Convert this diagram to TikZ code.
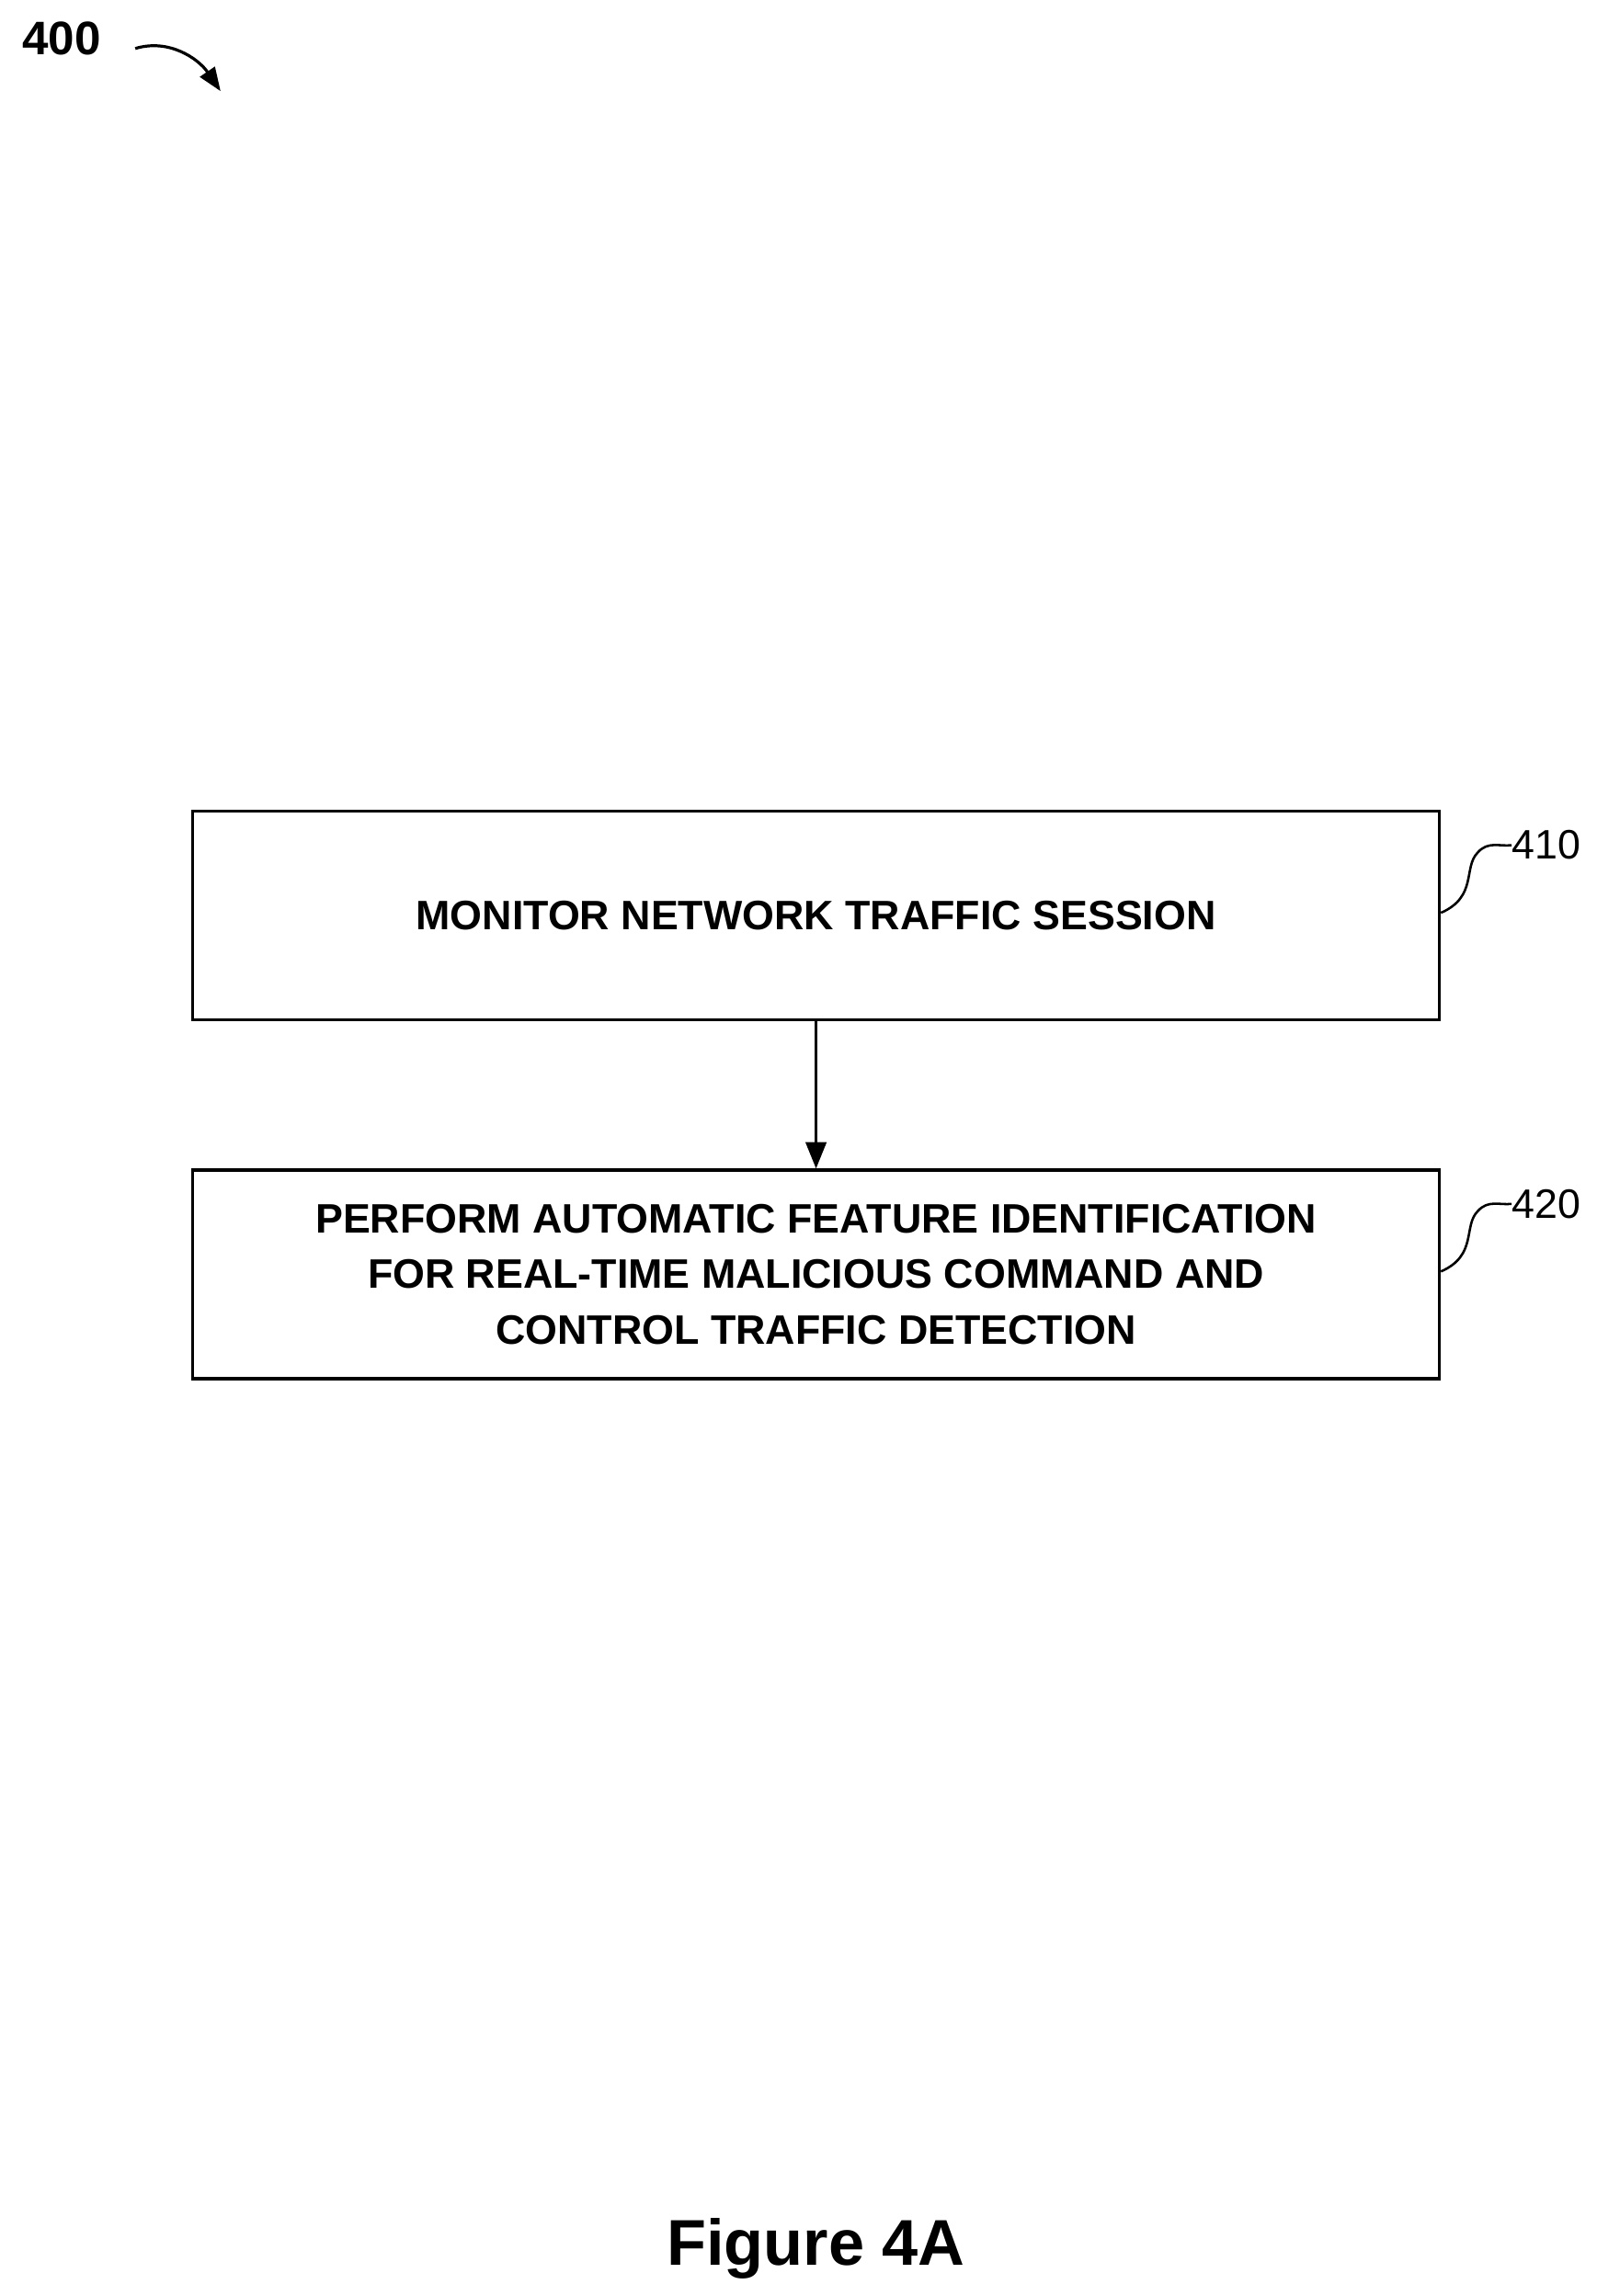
\documentclass[tikz,border=0pt]{standalone}
\usepackage{fontspec}
\setmainfont{Liberation Sans}
\usetikzlibrary{arrows.meta}
\begin{document}
\begin{tikzpicture}[x=0.5pt,y=-0.5pt,
  box/.style={draw,line width=1pt,minimum width=424pt,minimum height=71pt,align=center,font=\bfseries\fontsize{14}{19}\selectfont,inner sep=0pt},
  lbl/.style={font=\fontsize{14}{16}\selectfont,anchor=west,inner sep=0pt}]
\useasboundingbox (0,0) rectangle (1086,1562);
\node[box] (b1) at (555,623) {MONITOR NETWORK TRAFFIC SESSION};
\node[box] (b2) at (555,867) {PERFORM AUTOMATIC FEATURE IDENTIFICATION\\FOR REAL-TIME MALICIOUS COMMAND AND\\CONTROL TRAFFIC DETECTION};
\draw[line width=1pt,-{Triangle[length=9pt,width=7pt]}] (b1.south) -- (b2.north);
\node[lbl] (l1) at (1028,575) {410};
\node[lbl] (l2) at (1028,819) {420};
\draw[line width=0.8pt] (b1.east) ++(0,-2) .. controls (1005,610) and (995,590) .. (1005,580) .. controls (1012,572) and (1020,576) .. (l1.west);
\draw[line width=0.8pt] (b2.east) ++(0,-2) .. controls (1005,854) and (995,834) .. (1005,824) .. controls (1012,816) and (1020,820) .. (l2.west);
\node[font=\bfseries\fontsize{16}{18}\selectfont] (n400) at (42,26) {400};
\coordinate (a4) at (150,62);
\draw[line width=1pt,-{Triangle[length=8pt,width=6pt]}] (92,33) .. controls (115,26) and (135,40) .. (a4);
\node[font=\bfseries\fontsize{22}{24}\selectfont] (fig) at (555,1530) {Figure 4A};
\end{tikzpicture}
\end{document}
